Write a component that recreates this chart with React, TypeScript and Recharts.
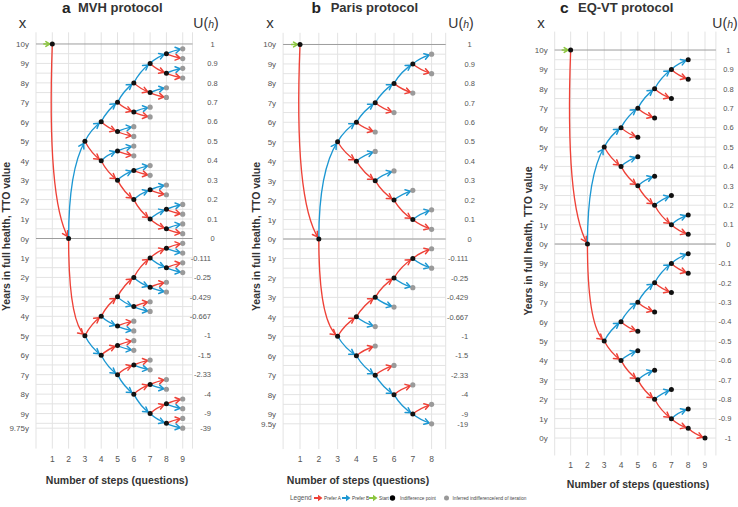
import React from 'react';
import { ComposedChart, Line, Scatter, XAxis, YAxis, CartesianGrid, ReferenceLine } from 'recharts';

const RED = '#ee4137';
const BLUE = '#1c97d2';
const GREEN = '#8cc63f';
const GRID = '#e3e3e3';
const DARK_LINE = '#9d9d9d';
const TEXT = '#333';
const TICK = '#555';
const FONT = '"Liberation Sans", Arial, Helvetica, sans-serif';

// [fromStep, fromYears, toStep, toYears, choice]  (years below 0y are negative)
type Edge = [number, number, number, number, 'A' | 'B'];

const steps9 = [1, 2, 3, 4, 5, 6, 7, 8, 9];
const steps8 = [1, 2, 3, 4, 5, 6, 7, 8];
const startNode = [{ x: 1, y: 10 }];

// ---- MVH protocol ----
const mvhTickPos = [10, 9, 8, 7, 6, 5, 4, 3, 2, 1, 0, -1, -2, -3, -4, -5, -6, -7, -8, -9, -9.75];
const mvhYears = ['10y', '9y', '8y', '7y', '6y', '5y', '4y', '3y', '2y', '1y', '0y', '1y', '2y', '3y', '4y', '5y', '6y', '7y', '8y', '9y', '9.75y'];
const mvhUtility = ['1', '0.9', '0.8', '0.7', '0.6', '0.5', '0.4', '0.3', '0.2', '0.1', '0', '-0.111', '-0.25', '-0.429', '-0.667', '-1', '-1.5', '-2.33', '-4', '-9', '-39'];
const mvhEdges: Edge[] = [
  [1, 10, 2, 0, 'A'], [2, 0, 3, 5, 'B'],
  [3, 5, 4, 6, 'B'], [3, 5, 4, 4, 'A'],
  [4, 6, 5, 7, 'B'], [4, 6, 5, 5.5, 'A'],
  [5, 7, 6, 8, 'B'], [5, 7, 6, 6.5, 'A'],
  [6, 8, 7, 9, 'B'], [6, 8, 7, 7.5, 'A'],
  [7, 9, 8, 9.5, 'B'], [7, 9, 8, 8.5, 'A'],
  [8, 9.5, 9, 9.75, 'B'], [8, 9.5, 9, 9.25, 'A'],
  [8, 8.5, 9, 8.75, 'B'], [8, 8.5, 9, 8.25, 'A'],
  [7, 7.5, 8, 7.75, 'B'], [7, 7.5, 8, 7.25, 'A'],
  [6, 6.5, 7, 6.75, 'B'], [6, 6.5, 7, 6.25, 'A'],
  [5, 5.5, 6, 5.75, 'B'], [5, 5.5, 6, 5.25, 'A'],
  [4, 4, 5, 4.5, 'B'], [4, 4, 5, 3, 'A'],
  [5, 4.5, 6, 4.75, 'B'], [5, 4.5, 6, 4.25, 'A'],
  [5, 3, 6, 3.5, 'B'], [5, 3, 6, 2, 'A'],
  [6, 3.5, 7, 3.75, 'B'], [6, 3.5, 7, 3.25, 'A'],
  [6, 2, 7, 2.5, 'B'], [6, 2, 7, 1, 'A'],
  [7, 2.5, 8, 2.75, 'B'], [7, 2.5, 8, 2.25, 'A'],
  [7, 1, 8, 1.5, 'B'], [7, 1, 8, 0.5, 'A'],
  [8, 1.5, 9, 1.75, 'B'], [8, 1.5, 9, 1.25, 'A'],
  [8, 0.5, 9, 0.75, 'B'], [8, 0.5, 9, 0.25, 'A'],
  [2, 0, 3, -5, 'A'],
  [3, -5, 4, -4, 'A'], [3, -5, 4, -6, 'B'],
  [4, -4, 5, -3, 'A'], [4, -4, 5, -4.5, 'B'],
  [5, -3, 6, -2, 'A'], [5, -3, 6, -3.5, 'B'],
  [6, -2, 7, -1, 'A'], [6, -2, 7, -2.5, 'B'],
  [7, -1, 8, -0.5, 'A'], [7, -1, 8, -1.5, 'B'],
  [8, -0.5, 9, -0.25, 'A'], [8, -0.5, 9, -0.75, 'B'],
  [8, -1.5, 9, -1.25, 'A'], [8, -1.5, 9, -1.75, 'B'],
  [7, -2.5, 8, -2.25, 'A'], [7, -2.5, 8, -2.75, 'B'],
  [6, -3.5, 7, -3.25, 'A'], [6, -3.5, 7, -3.75, 'B'],
  [5, -4.5, 6, -4.25, 'A'], [5, -4.5, 6, -4.75, 'B'],
  [4, -6, 5, -5.5, 'A'], [4, -6, 5, -7, 'B'],
  [5, -5.5, 6, -5.25, 'A'], [5, -5.5, 6, -5.75, 'B'],
  [5, -7, 6, -6.5, 'A'], [5, -7, 6, -8, 'B'],
  [6, -6.5, 7, -6.25, 'A'], [6, -6.5, 7, -6.75, 'B'],
  [6, -8, 7, -7.5, 'A'], [6, -8, 7, -9, 'B'],
  [7, -7.5, 8, -7.25, 'A'], [7, -7.5, 8, -7.75, 'B'],
  [7, -9, 8, -8.5, 'A'], [7, -9, 8, -9.5, 'B'],
  [8, -8.5, 9, -8.25, 'A'], [8, -8.5, 9, -8.75, 'B'],
  [8, -9.5, 9, -9.25, 'A'], [8, -9.5, 9, -9.75, 'B'],
];

// ---- Paris protocol ----
const parisTickPos = [10, 9, 8, 7, 6, 5, 4, 3, 2, 1, 0, -1, -2, -3, -4, -5, -6, -7, -8, -9, -9.5];
const parisYears = ['10y', '9y', '8y', '7y', '6y', '5y', '4y', '3y', '2y', '1y', '0y', '1y', '2y', '3y', '4y', '5y', '6y', '7y', '8y', '9y', '9.5y'];
const parisUtility = ['1', '0.9', '0.8', '0.7', '0.6', '0.5', '0.4', '0.3', '0.2', '0.1', '0', '-0.111', '-0.25', '-0.429', '-0.667', '-1', '-1.5', '-2.33', '-4', '-9', '-19'];
const parisEdges: Edge[] = [
  [1, 10, 2, 0, 'A'], [2, 0, 3, 5, 'B'],
  [3, 5, 4, 6, 'B'], [3, 5, 4, 4, 'A'],
  [4, 6, 5, 7, 'B'], [4, 6, 5, 5.5, 'A'],
  [5, 7, 6, 8, 'B'], [5, 7, 6, 6.5, 'A'],
  [6, 8, 7, 9, 'B'], [6, 8, 7, 7.5, 'A'],
  [7, 9, 8, 9.5, 'B'], [7, 9, 8, 8.5, 'A'],
  [4, 4, 5, 4.5, 'B'], [4, 4, 5, 3, 'A'],
  [5, 3, 6, 3.5, 'B'], [5, 3, 6, 2, 'A'],
  [6, 2, 7, 2.5, 'B'], [6, 2, 7, 1, 'A'],
  [7, 1, 8, 1.5, 'B'], [7, 1, 8, 0.5, 'A'],
  [2, 0, 3, -5, 'A'],
  [3, -5, 4, -4, 'A'], [3, -5, 4, -6, 'B'],
  [4, -4, 5, -3, 'A'], [4, -4, 5, -4.5, 'B'],
  [5, -3, 6, -2, 'A'], [5, -3, 6, -3.5, 'B'],
  [6, -2, 7, -1, 'A'], [6, -2, 7, -2.5, 'B'],
  [7, -1, 8, -0.5, 'A'], [7, -1, 8, -1.5, 'B'],
  [4, -6, 5, -5.5, 'A'], [4, -6, 5, -7, 'B'],
  [5, -7, 6, -6.5, 'A'], [5, -7, 6, -8, 'B'],
  [6, -8, 7, -7.5, 'A'], [6, -8, 7, -9, 'B'],
  [7, -9, 8, -8.5, 'A'], [7, -9, 8, -9.5, 'B'],
];

// ---- EQ-VT protocol ----
const eqvtTickPos = [10, 9, 8, 7, 6, 5, 4, 3, 2, 1, 0, -1, -2, -3, -4, -5, -6, -7, -8, -9, -10];
const eqvtYears = ['10y', '9y', '8y', '7y', '6y', '5y', '4y', '3y', '2y', '1y', '0y', '9y', '8y', '7y', '6y', '5y', '4y', '3y', '2y', '1y', '0y'];
const eqvtUtility = ['1', '0.9', '0.8', '0.7', '0.6', '0.5', '0.4', '0.3', '0.2', '0.1', '0', '-0.1', '-0.2', '-0.3', '-0.4', '-0.5', '-0.6', '-0.7', '-0.8', '-0.9', '-1'];
const eqvtEdges: Edge[] = [
  [1, 10, 2, 0, 'A'], [2, 0, 3, 5, 'B'],
  [3, 5, 4, 6, 'B'], [3, 5, 4, 4, 'A'],
  [4, 6, 5, 7, 'B'], [4, 6, 5, 5.5, 'A'],
  [5, 7, 6, 8, 'B'], [5, 7, 6, 6.5, 'A'],
  [6, 8, 7, 9, 'B'], [6, 8, 7, 7.5, 'A'],
  [7, 9, 8, 9.5, 'B'], [7, 9, 8, 8.5, 'A'],
  [4, 4, 5, 4.5, 'B'], [4, 4, 5, 3, 'A'],
  [5, 3, 6, 3.5, 'B'], [5, 3, 6, 2, 'A'],
  [6, 2, 7, 2.5, 'B'], [6, 2, 7, 1, 'A'],
  [7, 1, 8, 1.5, 'B'], [7, 1, 8, 0.5, 'A'],
  [2, 0, 3, -5, 'A'],
  [3, -5, 4, -4, 'B'], [3, -5, 4, -6, 'A'],
  [4, -4, 5, -3, 'B'], [4, -4, 5, -4.5, 'A'],
  [5, -3, 6, -2, 'B'], [5, -3, 6, -3.5, 'A'],
  [6, -2, 7, -1, 'B'], [6, -2, 7, -2.5, 'A'],
  [7, -1, 8, -0.5, 'B'], [7, -1, 8, -1.5, 'A'],
  [4, -6, 5, -5.5, 'B'], [4, -6, 5, -7, 'A'],
  [5, -7, 6, -6.5, 'B'], [5, -7, 6, -8, 'A'],
  [6, -8, 7, -7.5, 'B'], [6, -8, 7, -9, 'A'],
  [7, -9, 8, -8.5, 'B'], [7, -9, 8, -9.5, 'A'],
  [8, -9.5, 9, -10, 'A'],
];

const halfSteps = (hi: number, lo: number) => {
  const out: number[] = [];
  for (let v = hi; v >= lo - 1e-9; v -= 0.5) out.push(v);
  return out;
};

// inner nodes = where a question was asked, ends = last node of a branch
function splitNodes(edges: Edge[]) {
  const k = (x: number, y: number) => `${x}|${y}`;
  const src = new Map<string, { x: number; y: number }>();
  const dst = new Map<string, { x: number; y: number }>();
  edges.forEach(([x1, y1, x2, y2]) => {
    src.set(k(x1, y1), { x: x1, y: y1 });
    dst.set(k(x2, y2), { x: x2, y: y2 });
  });
  const ends = [...dst.entries()].filter(([key]) => !src.has(key)).map(([, v]) => v);
  return { inner: [...src.values()], ends };
}

const chevron = (tx: number, ty: number, ux: number, uy: number, len = 5.5, ang = 0.55) => {
  const c = Math.cos(ang);
  const s = Math.sin(ang);
  const bx = -ux;
  const by = -uy;
  const l1x = tx + len * (bx * c - by * s);
  const l1y = ty + len * (bx * s + by * c);
  const l2x = tx + len * (bx * c + by * s);
  const l2y = ty + len * (-bx * s + by * c);
  return `M${l1x},${l1y}L${tx},${ty}L${l2x},${l2y}`;
};

function edgePath(a: { x: number; y: number }, b: { x: number; y: number }, color: string) {
  const dx = b.x - a.x;
  const dy = b.y - a.y;
  let cx;
  let cy;
  if (Math.abs(dy) > 150) {
    cx = a.x - 0.34 * dx;
    cy = a.y + 0.8 * dy;
  } else if (Math.abs(dy) > 60) {
    cx = a.x;
    cy = a.y + (dy < 0 ? 0.7 : 0.85) * dy;
  } else {
    cx = a.x + 0.38 * dx;
    cy = a.y + 0.62 * dy;
  }
  let ux = b.x - cx;
  let uy = b.y - cy;
  const n = Math.hypot(ux, uy) || 1;
  ux /= n;
  uy /= n;
  const tx = b.x - 2.6 * ux;
  const ty = b.y - 2.6 * uy;
  return (
    <g>
      <path d={`M${a.x},${a.y}Q${cx},${cy} ${b.x},${b.y}`} fill="none" stroke={color} strokeWidth={1.35} />
      <path d={chevron(tx, ty, ux, uy)} fill="none" stroke={color} strokeWidth={1.5} strokeLinecap="round" strokeLinejoin="round" />
    </g>
  );
}

function edgeDot(color: string) {
  let start: { x: number; y: number } | null = null;
  return (p: any) => {
    if (p.index === 0) {
      start = { x: p.cx, y: p.cy };
      return <g key="s" />;
    }
    const a = p.points && p.points[0] ? { x: p.points[0].x, y: p.points[0].y } : start;
    if (!a) return <g key="e" />;
    return <g key="e">{edgePath(a, { x: p.cx, y: p.cy }, color)}</g>;
  };
}

const nodeShape = (fill: string, r: number) => (p: any) => <circle cx={p.cx} cy={p.cy} r={r} fill={fill} />;
const noShape = () => <g />;

const startShape = (p: any) => (
  <g>
    <line x1={p.cx - 9} y1={p.cy} x2={p.cx - 3} y2={p.cy} stroke={GREEN} strokeWidth={1.5} />
    <path d={chevron(p.cx - 2.6, p.cy, 1, 0, 4.5)} fill="none" stroke={GREEN} strokeWidth={1.6} strokeLinecap="round" />
  </g>
);

const panels = [
  {
    id: 'a', left: 0, width: 245,
    margin: { top: 32.3, right: 12.5, bottom: 38.4, left: 0 },
    leftW: 36, rightW: 40, xDomain: [0, 9.6], xTicks: steps9, yDomain: [-10.8, 10.6],
    tickPos: mvhTickPos, years: mvhYears, utility: mvhUtility, edges: mvhEdges,
    terminalBlack: false, grid: [...halfSteps(9.5, -9.5), -9.75], uOffC: 20, uOffE: 18.5, xTickDy: 13,
  },
  {
    id: 'b', left: 245, width: 245,
    margin: { top: 32.8, right: 4.3, bottom: 37.9, left: 0 },
    leftW: 38.1, rightW: 40, xDomain: [0.1, 8.75], xTicks: steps8, yDomain: [-10.8, 10.6],
    tickPos: parisTickPos, years: parisYears, utility: parisUtility, edges: parisEdges,
    terminalBlack: false, grid: halfSteps(9.5, -9.5), uOffC: 24, uOffE: 22.5, xTickDy: 13,
  },
  {
    id: 'c', left: 490, width: 248,
    margin: { top: 31.6, right: 0, bottom: 31.5, left: 0 },
    leftW: 64.7, rightW: 22.1, xDomain: [0.05, 9.65], xTicks: steps9, yDomain: [-10.9, 10.95],
    tickPos: eqvtTickPos, years: eqvtYears, utility: eqvtUtility, edges: eqvtEdges,
    terminalBlack: true, grid: halfSteps(9.5, -10), uOffC: 12.5, uOffE: 15.5, xTickDy: 12,
  },
];

function Panel({ cfg }: { cfg: any }) {
  const { inner, ends } = splitNodes(cfg.edges);
  const black = cfg.terminalBlack ? [...inner, ...ends] : inner;
  const gray = cfg.terminalBlack ? [] : ends;
  const label = (list: string[], v: number) => list[cfg.tickPos.indexOf(v)] ?? '';
  return (
    <div style={{ position: 'absolute', left: cfg.left, top: 0 }}>
      <ComposedChart width={cfg.width} height={507} margin={cfg.margin}>
        <CartesianGrid yAxisId="L" stroke={GRID} horizontalValues={cfg.grid} />
        <XAxis
          type="number" dataKey="x" domain={cfg.xDomain} ticks={cfg.xTicks} height={20}
          axisLine={false} tickLine={false} tickSize={0} tickMargin={0} interval={0}
          tick={(p: any) => (
            <text x={p.x} y={p.y + cfg.xTickDy} textAnchor="middle" fontSize={8.5} fill={TICK} fontFamily={FONT}>
              {p.payload.value}
            </text>
          )}
        />
        <YAxis
          yAxisId="L" type="number" dataKey="y" domain={cfg.yDomain} ticks={cfg.tickPos} width={cfg.leftW}
          axisLine={false} tickLine={false} tickSize={0} tickMargin={7} interval={0}
          tick={(p: any) => (
            <text x={p.x} y={p.y + 3} textAnchor="end" fontSize={8} fill={TICK} fontFamily={FONT}>
              {label(cfg.years, p.payload.value)}
            </text>
          )}
        />
        <YAxis
          yAxisId="R" orientation="right" type="number" dataKey="y" domain={cfg.yDomain} ticks={cfg.tickPos} width={cfg.rightW}
          axisLine={false} tickLine={false} tickSize={0} tickMargin={0} interval={0}
          tick={(p: any) => {
            const s = label(cfg.utility, p.payload.value);
            const neg = s.startsWith('-');
            return (
              <text x={p.x + (neg ? cfg.uOffE : cfg.uOffC)} y={p.y + 2.7} textAnchor={neg ? 'end' : 'middle'}
                fontSize={7.5} fill={TICK} fontFamily={FONT}>
                {s}
              </text>
            );
          }}
        />
        <ReferenceLine yAxisId="L" y={10} stroke={DARK_LINE} />
        <ReferenceLine yAxisId="L" y={0} stroke={DARK_LINE} />
        {cfg.edges.map((e: Edge, i: number) => (
          <Line
            key={`${cfg.id}-e${i}`}
            yAxisId="L"
            data={[{ x: e[0], y: e[1] }, { x: e[2], y: e[3] }]}
            dataKey="y"
            stroke="none"
            dot={edgeDot(e[4] === 'A' ? RED : BLUE)}
            activeDot={false}
            isAnimationActive={false}
          />
        ))}
        <Scatter yAxisId="R" data={startNode} shape={noShape} isAnimationActive={false} />
        <Scatter yAxisId="L" data={startNode} shape={startShape} isAnimationActive={false} />
        <Scatter yAxisId="L" data={gray} shape={nodeShape('#9a9a9a', 2.6)} isAnimationActive={false} />
        <Scatter yAxisId="L" data={black} shape={nodeShape('#111', 2.5)} isAnimationActive={false} />
      </ComposedChart>
    </div>
  );
}

const titles = [
  { letter: 'a', name: 'MVH protocol', lx: 62, tx: 78, xx: 22.5, ux: 206, yx: 6.5, yy: 236.5, sx: 117, sy: 480 },
  { letter: 'b', name: 'Paris protocol', lx: 311.5, tx: 330.7, xx: 270, ux: 461, yx: 256, yy: 236.5, sx: 358, sy: 480.5 },
  { letter: 'c', name: 'EQ-VT protocol', lx: 560, tx: 578, xx: 541, ux: 725, yx: 528, yy: 241, sx: 638, sy: 484.5 },
];

function LegendArrow({ x, y, color }: { x: number; y: number; color: string }) {
  return (
    <g>
      <line x1={x} y1={y} x2={x + 5} y2={y} stroke={color} strokeWidth={2} />
      <path d={`M${x + 4},${y - 3.2}L${x + 8.5},${y}L${x + 4},${y + 3.2}Z`} fill={color} />
    </g>
  );
}

function Overlay() {
  const ly = 498;
  const small = { fontSize: 4.7, fill: '#444', fontFamily: FONT };
  return (
    <svg width={738} height={507} style={{ position: 'absolute', left: 0, top: 0, pointerEvents: 'none' }}>
      {titles.map((t) => (
        <g key={t.letter} fontFamily={FONT}>
          <text x={t.lx} y={12.5} fontSize={15.5} fontWeight="bold" fill="#222">{t.letter}</text>
          <text x={t.tx} y={12} fontSize={13} fontWeight="bold" fill={TEXT}>{t.name}</text>
          <text x={t.xx} y={27.5} fontSize={15} textAnchor="middle" fill={TEXT}>x</text>
          <text x={t.ux} y={28} fontSize={14} textAnchor="middle" fill={TEXT}>
            U(<tspan fontStyle="italic" fontSize={10.5}>h</tspan>)
          </text>
          <text transform={`translate(${t.yx},${t.yy}) rotate(-90)`} textAnchor="middle" dy={3.7}
            fontSize={10.5} fontWeight="bold" fill={TEXT}>
            Years in full health, TTO value
          </text>
          <text x={t.sx} y={t.sy + 3.7} textAnchor="middle" fontSize={10.5} fontWeight="bold" fill={TEXT}>
            Number of steps (questions)
          </text>
        </g>
      ))}
      <text x={290} y={ly + 2.3} fontSize={6.5} fill="#555" fontFamily={FONT}>Legend</text>
      <LegendArrow x={314} y={ly} color={RED} />
      <text x={324} y={ly + 1.7} {...small}>Prefer A</text>
      <LegendArrow x={342} y={ly} color={BLUE} />
      <text x={352} y={ly + 1.7} {...small}>Prefer B</text>
      <LegendArrow x={369} y={ly} color={GREEN} />
      <text x={379} y={ly + 1.7} {...small}>Start</text>
      <circle cx={392.5} cy={ly} r={2.7} fill="#000" />
      <text x={400} y={ly + 1.7} {...small}>Indifference point</text>
      <circle cx={446.5} cy={ly} r={2.5} fill="#999" />
      <text x={452.5} y={ly + 1.7} {...small}>Inferred indifference/end of iteration</text>
    </svg>
  );
}

export default function App() {
  return (
    <div style={{ position: 'absolute', left: 0, top: 0, width: 738, height: 507, background: '#fff', overflow: 'hidden' }}>
      {panels.map((p) => (
        <Panel key={p.id} cfg={p} />
      ))}
      <Overlay />
    </div>
  );
}
